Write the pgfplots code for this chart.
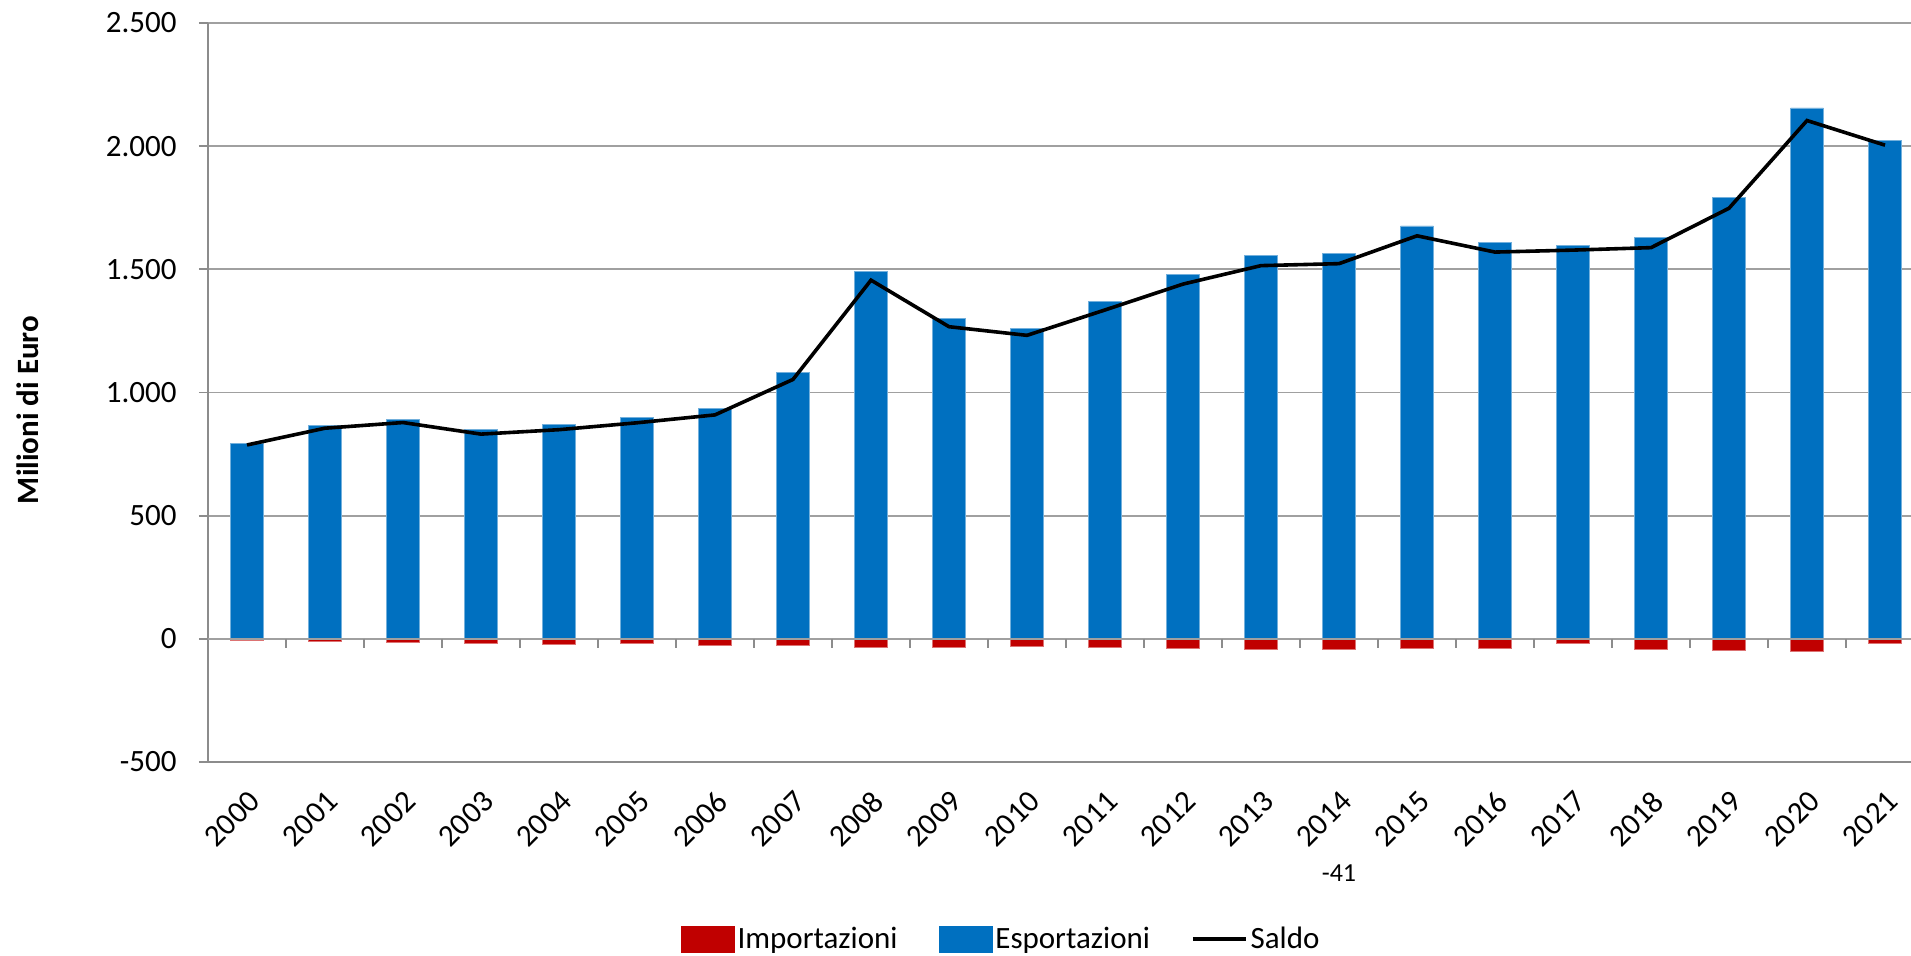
\documentclass[border=0pt]{standalone}
\usepackage{pgfplots}
\pgfplotsset{compat=1.18}
\usepackage{pgfplotstable}
\usepackage{fontspec}
\setmainfont{Carlito}
\definecolor{impred}{HTML}{C00000}
\definecolor{expblue}{HTML}{0070C0}
\definecolor{gridgray}{HTML}{A0A0A0}
\definecolor{axisgray}{HTML}{8C8C8C}

\pgfplotstableread{
x E I S
0 794 -7 787
1 865 -10 855
2 891 -13 878
3 849 -18 831
4 872 -23 849
5 897 -20 877
6 935 -26 909
7 1080 -27 1053
8 1491 -35 1456
9 1300 -33 1267
10 1261 -29 1232
11 1368 -33 1335
12 1478 -38 1440
13 1556 -41 1515
14 1564 -41 1523
15 1676 -40 1636
16 1610 -40 1570
17 1598 -20 1578
18 1629 -41 1588
19 1793 -45 1748
20 2155 -51 2104
21 2022 -18 2004
}\data

\begin{document}
\begin{tikzpicture}
\path[use as bounding box] (0pt,0pt) rectangle (955.5pt,478pt);
\begin{axis}[
  at={(104pt,97pt)}, anchor=south west,
  scale only axis, width=858pt, height=369.5pt,
  xmin=-0.5, xmax=21.5, ymin=-500, ymax=2500,
  axis y line*=left, axis x line*=bottom,
  axis line style={axisgray, line width=0.9pt},
  clip=false,
  font=\fontsize{15.5}{18}\selectfont,
  ytick={-500,0,500,1000,1500,2000,2500},
  yticklabels={-500,0,500,1.000,1.500,2.000,2.500},
  ymajorgrids,
  major grid style={gridgray, line width=0.9pt},
  tick align=outside,
  major tick length=4.5pt,
  ytick style={axisgray, line width=0.9pt},
  yticklabel style={anchor=east, inner sep=0pt},
  yticklabel shift=11pt,
  xtick={0,...,21},
  xticklabels={2000,2001,2002,2003,2004,2005,2006,2007,2008,2009,2010,2011,2012,2013,2014,2015,2016,2017,2018,2019,2020,2021},
  xtick style={draw=none},
  xticklabel style={rotate=45, anchor=north east, inner sep=0pt},
  xticklabel shift=9pt,
  legend columns=3,
  legend style={draw=none, fill=none, at={(0.4625,-0.2395)}, anchor=center,
    font=\fontsize{15.5}{18}\selectfont,
    /tikz/every even column/.append style={column sep=19pt},
    nodes={inner sep=1.5pt}},
  legend cell align=left,
]
\addplot[ybar, bar width=0.42, bar shift=0pt, fill=impred, draw=impred!55!white, line width=0.4pt,
  legend image code/.code={\fill[impred] (0pt,-6.5pt) rectangle (26.5pt,6.5pt);}]
  table[x=x, y=I] {\data};
\addlegendentry{Importazioni}
\addplot[ybar, bar width=0.42, bar shift=0pt, fill=expblue, draw=expblue!55!white, line width=0.4pt,
  legend image code/.code={\fill[expblue] (0pt,-6.5pt) rectangle (26.5pt,6.5pt);}]
  table[x=x, y=E] {\data};
\addlegendentry{Esportazioni}
\addplot[black, line width=1.8pt, mark=none,
  legend image code/.code={\draw[black, line width=1.8pt] (0pt,0pt) -- (26.5pt,0pt);}]
  table[x=x, y=S] {\data};
\addlegendentry{Saldo}
\draw[gridgray, line width=0.9pt] (axis cs:-0.5,0) -- (axis cs:21.5,0);
\pgfplotsinvokeforeach{0.5,1.5,...,20.5}{
  \draw[axisgray, line width=0.9pt] (axis cs:#1,0) -- ++(0pt,-4.5pt);
}
\node[font=\fontsize{13}{15}\selectfont] at (axis cs:14,-950) {-41};
\end{axis}
\node[rotate=90, font=\fontsize{15.5}{18}\selectfont\bfseries] at (14pt,273pt) {Milioni di Euro};
\end{tikzpicture}
\end{document}
